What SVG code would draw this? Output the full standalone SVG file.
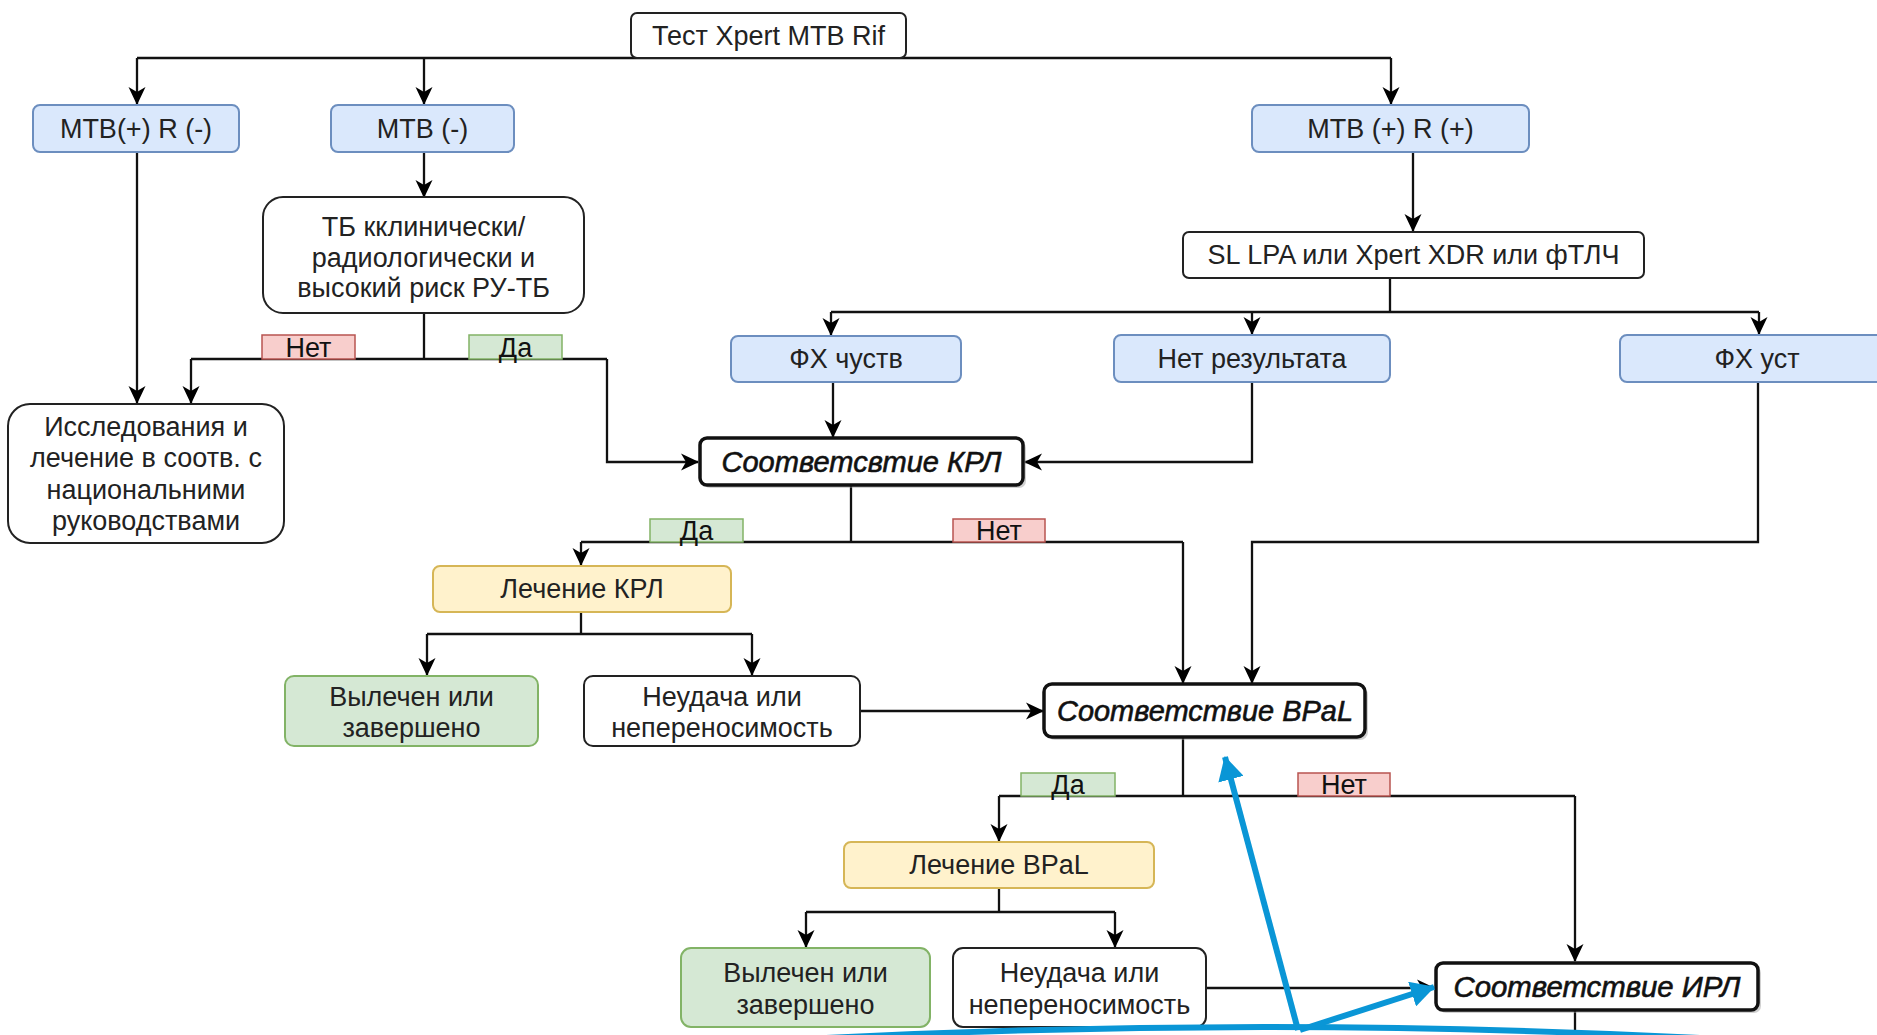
<svg xmlns="http://www.w3.org/2000/svg" width="1877" height="1035" viewBox="0 0 1877 1035">
<defs>
<marker id="arr" viewBox="0 0 18 18" markerWidth="18" markerHeight="18" refX="17" refY="9" orient="auto" markerUnits="userSpaceOnUse">
<path d="M0,0.5 L18,9 L0,17.5 L5,9 z" fill="#000"/>
</marker>
<marker id="barr" viewBox="0 0 24 26" markerWidth="24" markerHeight="26" refX="23" refY="13" orient="auto" markerUnits="userSpaceOnUse">
<path d="M0,0 L24,13 L0,26 z" fill="#0a96d6"/>
</marker>
</defs>
<style>
text{font-family:"Liberation Sans",Arial,sans-serif;font-size:27px;fill:#222;text-anchor:middle}
.plain{fill:#fff;stroke:#222;stroke-width:2}
.blue{fill:#dae8fc;stroke:#6c8ebf;stroke-width:2}
.green{fill:#d5e8d4;stroke:#82b366;stroke-width:2}
.yellow{fill:#fff2cc;stroke:#d6b656;stroke-width:2}
.dec{fill:#fff;stroke:#111;stroke-width:3.5}
.shadow{fill:#999;opacity:0.45}
.dect{font-style:italic;font-size:29px;fill:#111;stroke:#111;stroke-width:0.6}
.yes{fill:#d5e8d4;stroke:#82b366;stroke-width:1.5}
.no{fill:#f8cecc;stroke:#b85450;stroke-width:1.5}
.lbl{font-size:27px;fill:#111}
.c{fill:none;stroke:#111;stroke-width:2.3}
.a{fill:none;stroke:#111;stroke-width:2.3;marker-end:url(#arr)}
.bl{fill:none;stroke:#0a96d6;stroke-width:6}
</style>
<rect width="1877" height="1035" fill="#fff"/>

<g id="connectors">
<path class="c" d="M137,58 H1391"/>
<path class="a" d="M137,58 V104"/>
<path class="a" d="M424,58 V104"/>
<path class="a" d="M1391,58 V104"/>
<path class="a" d="M424,152 V197"/>
<path class="a" d="M1413,152 V231"/>
<path class="a" d="M137,152 V403"/>
<path class="c" d="M424,313 V359"/>
<path class="c" d="M191,359 H607"/>
<path class="a" d="M191,359 V403"/>
<path class="a" d="M607,359 V462 H698"/>
<path class="c" d="M1390,278 V312"/>
<path class="c" d="M831,312 H1759"/>
<path class="a" d="M831,312 V335"/>
<path class="a" d="M1252,312 V334"/>
<path class="a" d="M1759,312 V334"/>
<path class="a" d="M833,382 V437"/>
<path class="a" d="M1252,382 V462 H1025"/>
<path class="c" d="M851,485 V542"/>
<path class="c" d="M581,542 H1183"/>
<path class="a" d="M581,542 V565"/>
<path class="a" d="M1183,542 V683"/>
<path class="a" d="M1758,382 V542 H1252 V683"/>
<path class="c" d="M581,612 V634"/>
<path class="c" d="M427,634 H752"/>
<path class="a" d="M427,634 V675"/>
<path class="a" d="M752,634 V675"/>
<path class="a" d="M860,711 H1043"/>
<path class="c" d="M1183,737 V796"/>
<path class="c" d="M999,796 H1575"/>
<path class="a" d="M999,796 V841"/>
<path class="a" d="M1575,796 V961"/>
<path class="c" d="M999,888 V912"/>
<path class="c" d="M806,912 H1115"/>
<path class="a" d="M806,912 V947"/>
<path class="a" d="M1115,912 V947"/>
<path class="a" d="M1206,988 H1434"/>
<path class="c" d="M1575,1011 V1035"/>
</g>

<g id="edge-labels">
<g id="lbl-net1"><rect class="no" x="262" y="335" width="93" height="24"/><text class="lbl" x="308.5" y="357">Нет</text></g>
<g id="lbl-da1"><rect class="yes" x="469" y="335" width="93" height="24"/><text class="lbl" x="515.5" y="357">Да</text></g>
<g id="lbl-da2"><rect class="yes" x="650" y="519" width="93" height="23"/><text class="lbl" x="696.5" y="540">Да</text></g>
<g id="lbl-net2"><rect class="no" x="953" y="519" width="92" height="23"/><text class="lbl" x="999" y="540">Нет</text></g>
<g id="lbl-da3"><rect class="yes" x="1021" y="773" width="94" height="23"/><text class="lbl" x="1068" y="794">Да</text></g>
<g id="lbl-net3"><rect class="no" x="1298" y="773" width="92" height="23"/><text class="lbl" x="1344" y="794">Нет</text></g>
</g>

<g id="n-test"><rect class="plain" x="631" y="13" width="275" height="45" rx="6"/><text x="768.5" y="45">Тест Xpert MTB Rif</text></g>
<g id="n-mtb-r-neg"><rect class="blue" x="33" y="105" width="206" height="47" rx="7"/><text x="136" y="138">MTB(+) R (-)</text></g>
<g id="n-mtb-neg"><rect class="blue" x="331" y="105" width="183" height="47" rx="7"/><text x="422.5" y="138">MTB (-)</text></g>
<g id="n-mtb-r-pos"><rect class="blue" x="1252" y="105" width="277" height="47" rx="7"/><text x="1390.5" y="138">MTB (+) R (+)</text></g>
<g id="n-tb"><rect class="plain" x="263" y="197" width="321" height="116" rx="20"/>
<text x="423.5" y="236">ТБ кклинически/</text><text x="423.5" y="267">радиологически и</text><text x="423.5" y="297">высокий риск РУ-ТБ</text></g>
<g id="n-sl"><rect class="plain" x="1183" y="232" width="461" height="46" rx="6"/><text x="1413.5" y="264">SL LPA или Xpert XDR или фТЛЧ</text></g>
<g id="n-fx-s"><rect class="blue" x="731" y="336" width="230" height="46" rx="7"/><text x="846" y="368">ФХ чуств</text></g>
<g id="n-noresult"><rect class="blue" x="1114" y="335" width="276" height="47" rx="7"/><text x="1252" y="368">Нет результата</text></g>
<g id="n-fx-r"><rect class="blue" x="1620" y="335" width="274" height="47" rx="7"/><text x="1757" y="368">ФХ уст</text></g>
<g id="n-national"><rect class="plain" x="8" y="404" width="276" height="139" rx="22"/>
<text x="146" y="436">Исследования и</text><text x="146" y="467">лечение в соотв. с</text><text x="146" y="499">национальними</text><text x="146" y="530">руководствами</text></g>
<g id="n-krl-dec"><rect class="shadow" x="703" y="441" width="323" height="47" rx="7"/><rect class="dec" x="700" y="438" width="323" height="47" rx="7"/><text class="dect" x="861.5" y="472" textLength="280" lengthAdjust="spacingAndGlyphs">Соответсвтие КРЛ</text></g>
<g id="n-krl-tx"><rect class="yellow" x="433" y="566" width="298" height="46" rx="7"/><text x="582" y="598">Лечение КРЛ</text></g>
<g id="n-cured1"><rect class="green" x="285" y="676" width="253" height="70" rx="9"/><text x="411.5" y="706">Вылечен или</text><text x="411.5" y="737">завершено</text></g>
<g id="n-fail1"><rect class="plain" x="584" y="676" width="276" height="70" rx="9"/><text x="722" y="706">Неудача или</text><text x="722" y="737">непереносимость</text></g>
<g id="n-bpal-dec"><rect class="shadow" x="1047" y="687" width="321" height="53" rx="8"/><rect class="dec" x="1044" y="684" width="321" height="53" rx="8"/><text class="dect" x="1205" y="721" textLength="296" lengthAdjust="spacingAndGlyphs">Соответствие BPaL</text></g>
<g id="n-bpal-tx"><rect class="yellow" x="844" y="842" width="310" height="46" rx="7"/><text x="999" y="874">Лечение BPaL</text></g>
<g id="n-cured2"><rect class="green" x="681" y="948" width="249" height="79" rx="10"/><text x="805.5" y="982">Вылечен или</text><text x="805.5" y="1014">завершено</text></g>
<g id="n-fail2"><rect class="plain" x="953" y="948" width="253" height="79" rx="10"/><text x="1079.5" y="982">Неудача или</text><text x="1079.5" y="1014">непереносимость</text></g>
<g id="n-irl-dec"><rect class="shadow" x="1439" y="966" width="322" height="47" rx="7"/><rect class="dec" x="1436" y="963" width="322" height="47" rx="7"/><text class="dect" x="1597" y="997" textLength="287" lengthAdjust="spacingAndGlyphs">Соответствие ИРЛ</text></g>

<g id="annotation">
<path class="bl" stroke-width="8" d="M826,1038 Q1263,1016 1700,1038"/>
<path class="bl" stroke-width="5.5" d="M1298,1030 L1225,757" marker-end="url(#barr)"/>
<path class="bl" stroke-width="7" d="M1300,1030 L1434,987" marker-end="url(#barr)"/>
</g>
</svg>
